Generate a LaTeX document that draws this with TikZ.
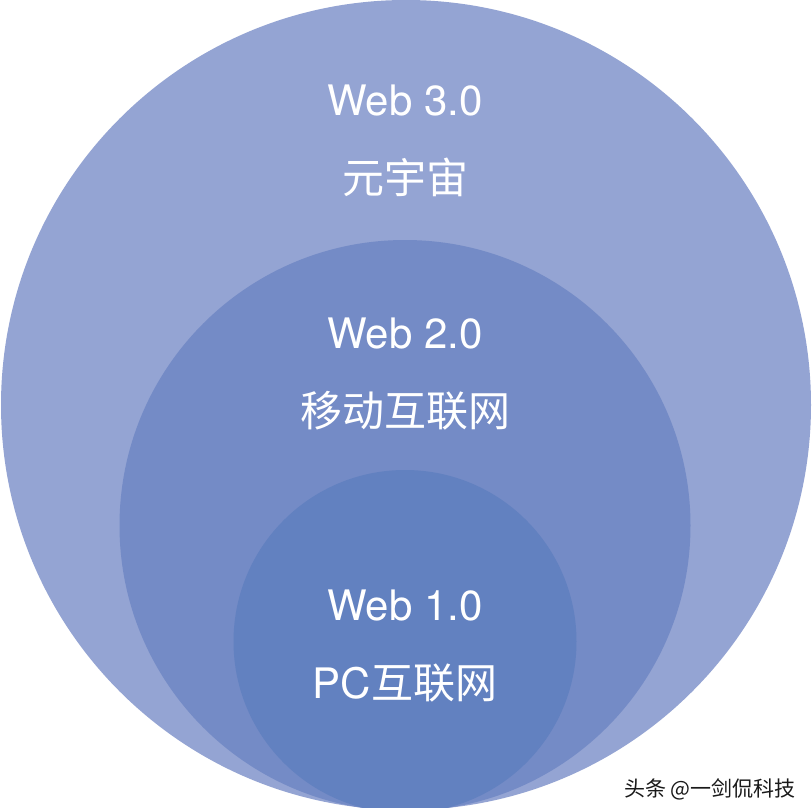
\documentclass[tikz,border=0pt]{standalone}
\usepackage{fontspec}
\setmainfont{TeX Gyre Heros}
\newfontfamily\cjk{Noto Sans CJK SC}
\usepackage{tikz}
\usetikzlibrary{positioning}
\definecolor{webthree}{HTML}{94A4D3}
\definecolor{webtwo}{HTML}{748BC6}
\definecolor{webone}{HTML}{6281C0}
\tikzset{
  label/.style={text=white, font=\fontsize{42}{50}\selectfont, inner sep=0pt, anchor=base},
  mark text/.style={text=black!90, font=\cjk\fontsize{21}{25}\selectfont, inner sep=0pt, anchor=base east}
}

\begin{document}
\begin{tikzpicture}[x=1pt, y=-1pt]
  \useasboundingbox[fill=white] (0,0) rectangle (812,808);
  \fill[webthree] (406, 405) circle (405);
  \fill[webtwo] (405, 525.5) circle (285.5);
  \fill[webone] (405, 641.5) circle (171.5);
  \node[label] (web3) at (405, 115) {Web 3.0};
  \node[label] (meta) at (405, 193) {\cjk 元宇宙};
  \node[label] (web2) at (405, 348) {Web 2.0};
  \node[label] (mobile) at (405, 426) {\cjk 移动互联网};
  \node[label] (web1) at (405, 620) {Web 1.0};
  \node[label] (pc) at (405, 698) {PC{\cjk 互联网}};
  \node[mark text] (mark) at (796, 796) {头条 @一剑侃科技};
\end{tikzpicture}
\end{document}
